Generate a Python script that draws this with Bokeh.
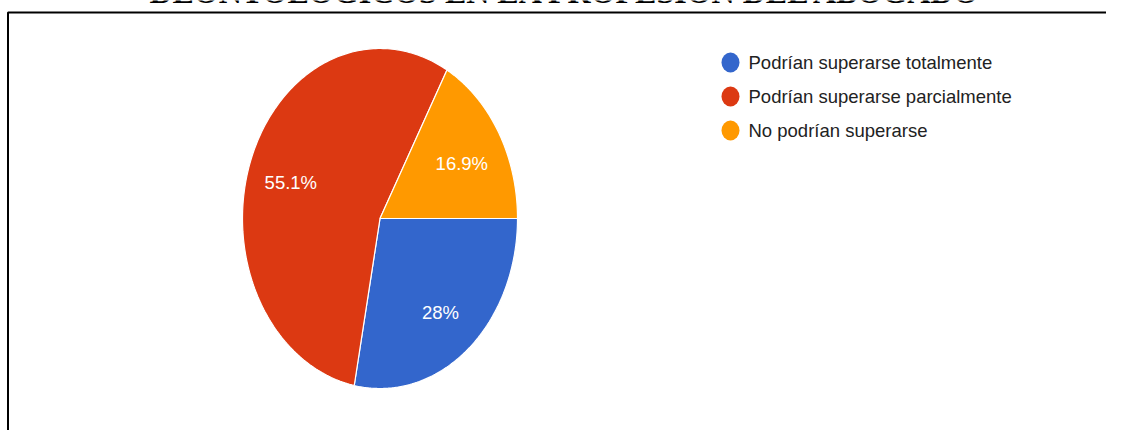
import numpy as np
from bokeh.plotting import figure
from bokeh.models import Range1d, Label
from bokeh.core.properties import value
from bokeh.embed import file_html
from bokeh.resources import INLINE

# ---- data ----
categories = ["Podrían superarse totalmente", "Podrían superarse parcialmente", "No podrían superarse"]
values = [28.0, 55.1, 16.9]
pct_labels = ["28%", "55.1%", "16.9%"]
colors = ["#3366cc", "#dc3912", "#ff9900"]
title_text = "DEONTOLÓGICOS EN LA PROFESIÓN DEL ABOGADO"

# ---- layout (pixel-like data space, y grows downward) ----
W, H = 1106, 430
p = figure(width=W, height=H, output_backend="svg", toolbar_location=None,
           x_range=Range1d(0, W), y_range=Range1d(H, 0),
           x_axis_location=None, y_axis_location=None, min_border=0)
p.grid.visible = False
p.outline_line_color = None
p.background_fill_color = "white"

cx, cy, rx, ry = 379.5, 218.0, 137.5, 170.0

vals = np.array(values)
frac = vals / vals.sum()
ends = np.cumsum(frac) * 2 * np.pi
starts = ends - frac * 2 * np.pi

xs, ys, lx, ly = [], [], [], []
for a0, a1 in zip(starts, ends):
    t = np.linspace(a0, a1, 200)
    xs.append(np.concatenate([[cx], cx + rx * np.cos(t), [cx]]))
    ys.append(np.concatenate([[cy], cy + ry * np.sin(t), [cy]]))
    m = (a0 + a1) / 2
    lx.append(cx + 0.69 * rx * np.cos(m))
    ly.append(cy + 0.69 * ry * np.sin(m) + 4)

p.patches(xs=xs, ys=ys, fill_color=colors, line_color="white", line_width=1.2)

p.text(x=lx, y=ly, text=pct_labels, text_color="white", text_font=value("Liberation Sans"),
       text_font_size="18.5px", text_align="center", text_baseline="middle")

# legend
leg_x, leg_y0, leg_dy = 730, 62, 34
ly_leg = [leg_y0 + i * leg_dy for i in range(len(categories))]
p.ellipse(x=[leg_x] * len(categories), y=ly_leg, width=18, height=20,
          fill_color=colors, line_color=None)
p.text(x=[leg_x + 18] * len(categories), y=ly_leg, text=categories, text_color="#222222",
       text_font=value("Liberation Sans"), text_font_size="18.5px",
       text_align="left", text_baseline="middle")

# frame border (top and left, continuing beyond the picture)
p.line(x=[7.5, 7.5, W + 10], y=[H + 10, 12, 12], line_color="black", line_width=2)

# cut-off title at the very top (only the bottom of the letters shows, as in the source)
p.add_layout(Label(x=566, y=-8.5, text=title_text, text_align="center", text_baseline="alphabetic",
                   text_font="Liberation Serif", text_font_style="bold", text_font_size="32px",
                   text_color="black"))

open("out.html", "w").write(file_html(p, INLINE))
